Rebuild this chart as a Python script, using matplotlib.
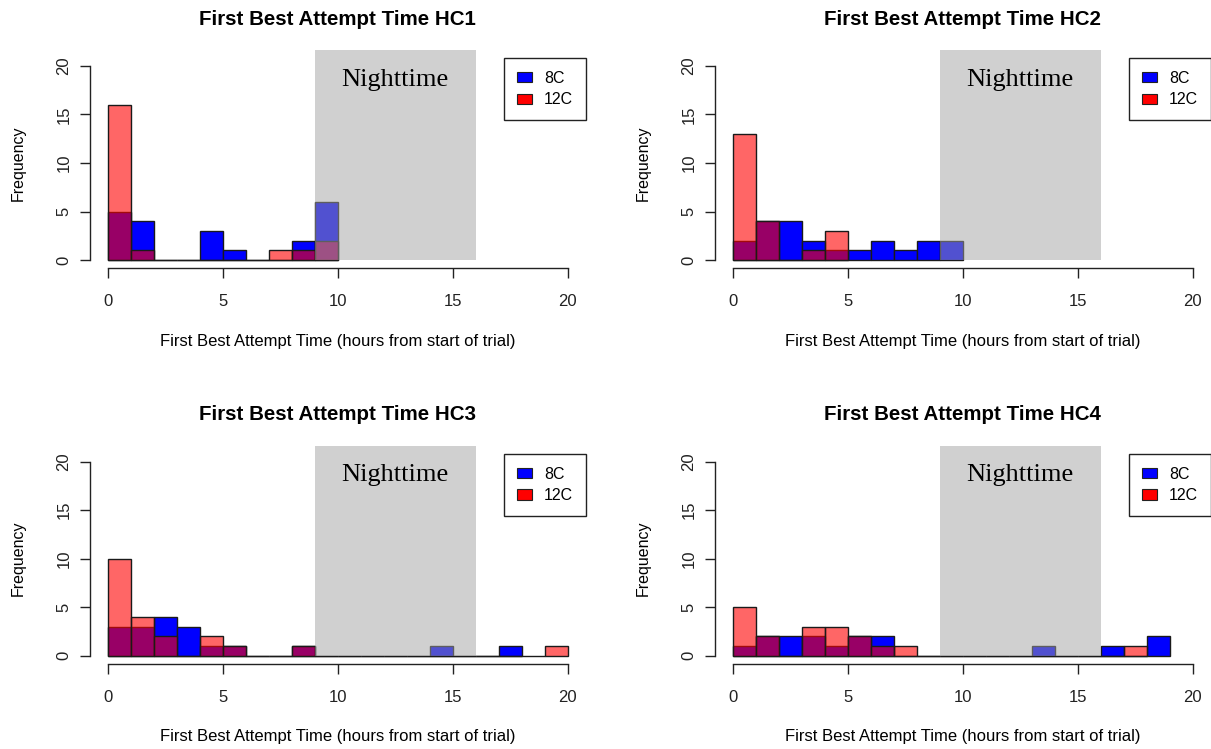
import matplotlib
matplotlib.use("Agg")
import matplotlib.pyplot as plt
from matplotlib.patches import Patch, Rectangle

plt.rcParams['font.family'] = ['Liberation Sans', 'DejaVu Sans']

# ---- data: counts per 1-hour bin starting at 0 ----
titles = ["First Best Attempt Time HC1", "First Best Attempt Time HC2",
          "First Best Attempt Time HC3", "First Best Attempt Time HC4"]
hc1_8c = [5, 4, 0, 0, 3, 1, 0, 0, 2, 6]
hc1_12c = [16, 1, 0, 0, 0, 0, 0, 1, 1, 2]
hc2_8c = [2, 4, 4, 2, 1, 1, 2, 1, 2, 2]
hc2_12c = [13, 4, 0, 1, 3]
hc3_8c = [3, 3, 4, 3, 1, 1, 0, 0, 1, 0, 0, 0, 0, 0, 1, 0, 0, 1]
hc3_12c = [10, 4, 2, 0, 2, 1, 0, 0, 1, 0, 0, 0, 0, 0, 0, 0, 0, 0, 0, 1]
hc4_8c = [1, 2, 2, 2, 1, 2, 2, 0, 0, 0, 0, 0, 0, 1, 0, 0, 1, 0, 2]
hc4_12c = [5, 2, 0, 3, 3, 2, 1, 1, 0, 0, 0, 0, 0, 0, 0, 0, 0, 1]
night_start, night_end = 9, 16
x_ticks = [0, 5, 10, 15, 20]
y_ticks = [0, 5, 10, 15, 20]
legend_labels = ["8C", "12C"]

series = [(hc1_8c, hc1_12c), (hc2_8c, hc2_12c), (hc3_8c, hc3_12c), (hc4_8c, hc4_12c)]

W, H = 1211, 749
fig = plt.figure(figsize=(W / 100, H / 100), dpi=100)

ax_w = 496.4 / W
ax_h = 209.6 / H
positions = [
    (89.6 / W, 1 - 267.8 / H),
    (714.6 / W, 1 - 267.8 / H),
    (89.6 / W, 1 - 663.5 / H),
    (714.6 / W, 1 - 663.5 / H),
]

blue = (0, 0, 1)
red = (1, 0, 0, 0.6)
gray = (0.64, 0.64, 0.64, 0.5)

for (left, bottom), title, (c8, c12) in zip(positions, titles, series):
    ax = fig.add_axes([left, bottom, ax_w, ax_h])
    ax.set_xlim(-0.8, 20.8)
    ax.set_ylim(-0.8, 20.8)
    ax.bar(range(len(c8)), c8, width=1, align='edge', color=blue,
           edgecolor='#1a1a1a', linewidth=1.0)
    ax.bar(range(len(c12)), c12, width=1, align='edge', color=red,
           edgecolor='#1a1a1a', linewidth=1.0)
    rect = Rectangle((night_start, 0), night_end - night_start, 21.65,
                     facecolor=gray, edgecolor='none', clip_on=False, zorder=3)
    ax.add_patch(rect)
    ax.text((night_start + night_end) / 2, 18.6, "Nighttime", ha='center', va='center',
            fontsize=19, family='Liberation Serif', zorder=4)

    for s in ['top', 'right']:
        ax.spines[s].set_visible(False)
    ax.spines['left'].set_bounds(0, 20)
    ax.spines['bottom'].set_bounds(0, 20)
    for s in ['left', 'bottom']:
        ax.spines[s].set_linewidth(1.0)
        ax.spines[s].set_color('#222222')
    ax.set_xticks(x_ticks)
    ax.set_yticks(y_ticks)
    ax.set_yticklabels([str(t) for t in y_ticks], rotation=90, va='center')
    ax.tick_params(axis='both', length=7, width=1.0, labelsize=12, colors='#222222')
    ax.tick_params(axis='x', pad=12)
    ax.tick_params(axis='y', pad=6)

    ax.set_xlabel("First Best Attempt Time (hours from start of trial)", fontsize=12)
    ax.xaxis.set_label_coords(0.5, -73.5 / 209.6)
    ax.xaxis.label.set_va('center')
    ax.set_ylabel("Frequency", fontsize=11.5)
    ax.yaxis.set_label_coords(-71.6 / 496.4, 0.5)
    ax.yaxis.label.set_va('center')

    ax.text(0.5, 1 + 39 / 209.6, title, transform=ax.transAxes, ha='center', va='center',
            fontsize=14.8, fontweight='bold')

    handles = [Patch(facecolor='#0000ff', edgecolor='#222222', linewidth=0.8),
               Patch(facecolor='#ff0000', edgecolor='#222222', linewidth=0.8)]
    leg = ax.legend(handles, legend_labels, loc='upper right', bbox_to_anchor=(1, 1),
                    borderaxespad=0, fancybox=False, framealpha=1, edgecolor='#222222',
                    fontsize=11.5, handlelength=0.95, handleheight=0.6, handletextpad=0.75,
                    labelspacing=0.4, borderpad=0.8)
    leg.get_frame().set_linewidth(1.0)
    leg.set_zorder(5)

fig.savefig("out.png", dpi=100)
